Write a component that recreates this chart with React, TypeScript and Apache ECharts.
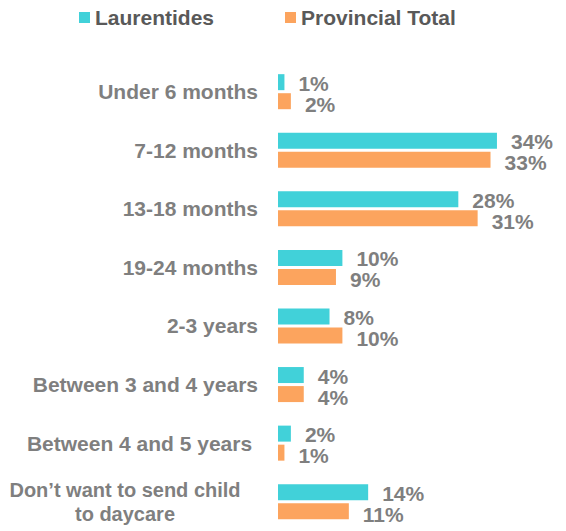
import React, { useEffect, useRef } from "react";
import * as echarts from "echarts";

const categories = [
  "Under 6 months",
  "7-12 months",
  "13-18 months",
  "19-24 months",
  "2-3 years",
  "Between 3 and 4 years",
  "Between 4 and 5 years ",
  "Don’t want to send child\nto daycare",
];
const laurentides = [1, 34, 28, 10, 8, 4, 2, 14];
const provincial = [2, 33, 31, 9, 10, 4, 1, 11];
const seriesNames = ["Laurentides", "Provincial Total"];

const FONT = "'Liberation Sans', Arial, sans-serif";
const GRAY = "#7f7f7f";

export default function App() {
  const ref = useRef<HTMLDivElement>(null);
  useEffect(() => {
    if (!ref.current) return;
    const chart = echarts.init(ref.current, undefined, { renderer: "svg" });
    const labelStyle = {
      show: true,
      position: "right" as const,
      distance: 14,
      formatter: "{c}%",
      fontSize: 21,
      fontWeight: "bold" as const,
      color: GRAY,
      fontFamily: FONT,
    };
    chart.setOption({
      animation: false,
      legend: {
        left: 79,
        top: 7,
        padding: 0,
        itemWidth: 11,
        itemHeight: 11,
        itemGap: 71,
        icon: "rect",
        textStyle: { fontSize: 21, fontWeight: "bold", color: "#595959", fontFamily: FONT },
        data: seriesNames,
      },
      grid: { left: 278, top: 62.4, width: 257.6, height: 473.6 },
      xAxis: { type: "value", min: 0, max: 40, show: false },
      yAxis: {
        type: "category",
        inverse: true,
        data: categories,
        axisLine: { show: false },
        axisTick: { show: false },
        splitLine: { show: false },
        axisLabel: {
          margin: 20,
          fontSize: 21,
          fontWeight: "bold",
          color: GRAY,
          fontFamily: FONT,
          formatter: (v: string) =>
            v.indexOf("\n") >= 0 ? v.split("\n").map((l) => `{c|${l}}`).join("\n") : v,
          rich: {
            c: {
              fontSize: 20,
              fontWeight: "bold",
              color: GRAY,
              fontFamily: FONT,
              width: 230,
              align: "center",
              lineHeight: 24,
              padding: [0, 18, 0, 0],
            },
          },
        },
      },
      series: [
        {
          name: seriesNames[0],
          type: "bar",
          data: laurentides,
          barWidth: 16,
          barGap: "19%",
          itemStyle: { color: "#41d1d9" },
          label: { ...labelStyle, offset: [0, 1] },
        },
        {
          name: seriesNames[1],
          type: "bar",
          data: provincial,
          barWidth: 16,
          itemStyle: { color: "#fca45e" },
          label: { ...labelStyle, offset: [0, 3] },
        },
      ],
    });
    return () => chart.dispose();
  }, []);
  return (
    <div
      ref={ref}
      style={{ position: "fixed", left: 0, top: 0, width: 566, height: 531, background: "#fff" }}
    />
  );
}
